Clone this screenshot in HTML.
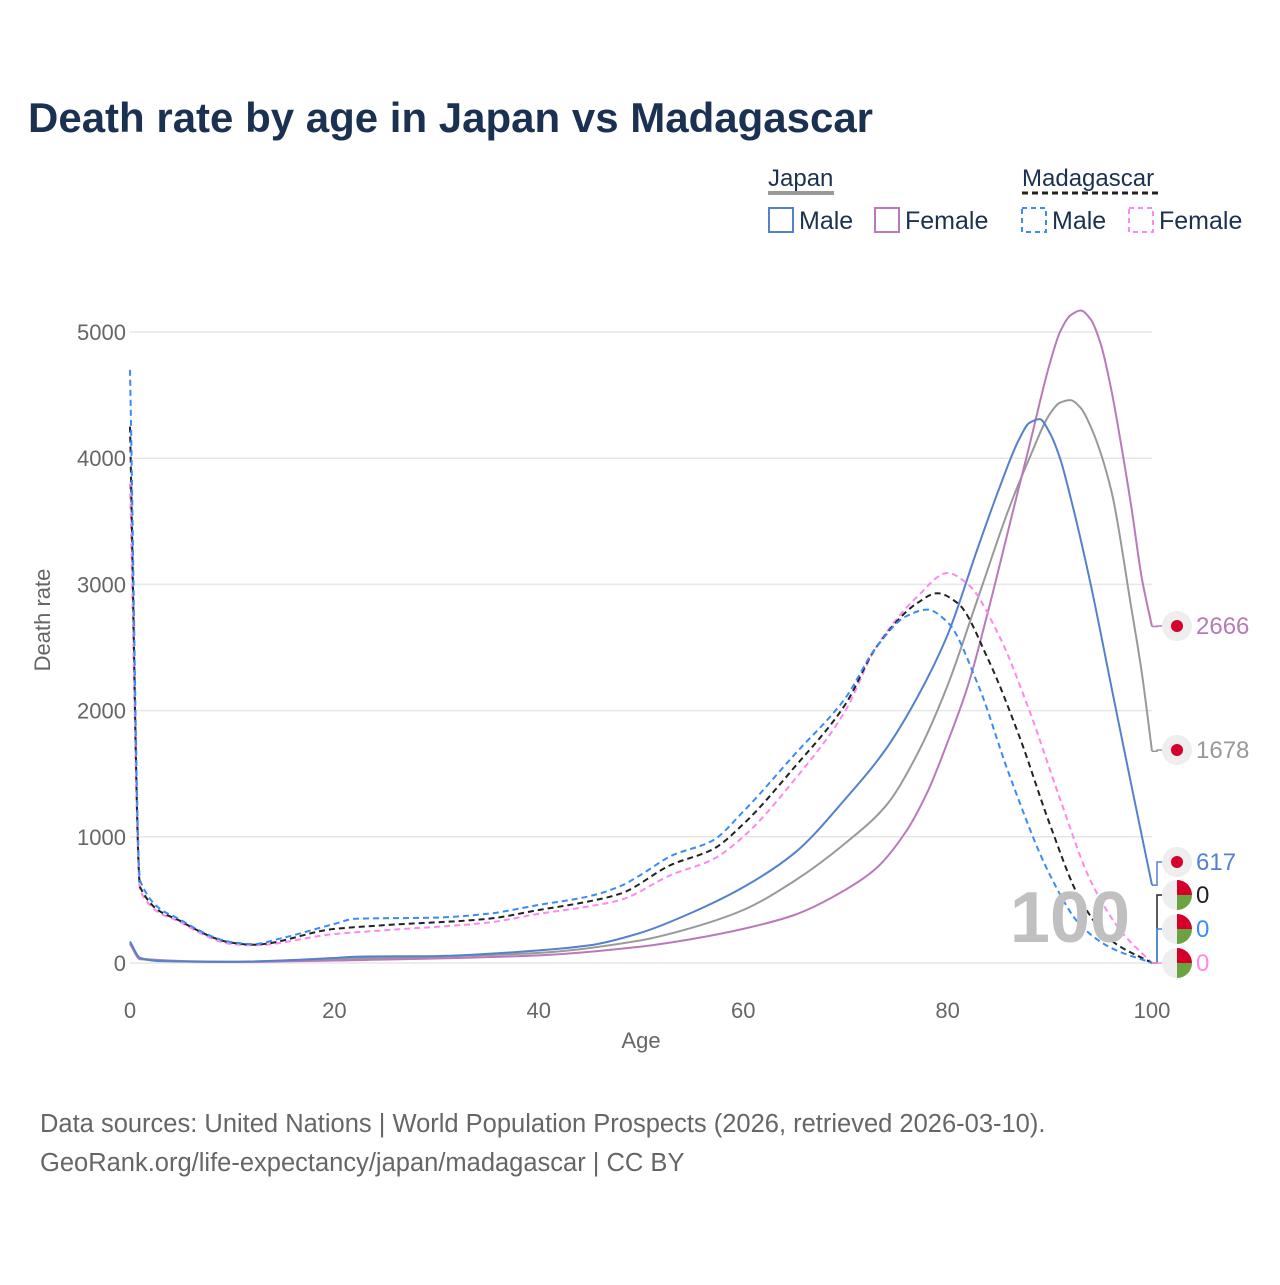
<!DOCTYPE html>
<html><head><meta charset="utf-8">
<style>
body{margin:0;background:#fff;}
svg text{font-family:"Liberation Sans",sans-serif;}
</style></head>
<body>
<svg id="chart" width="1280" height="1280" viewBox="0 0 1280 1280">
<text x="28" y="132" font-size="42" font-weight="bold" fill="#1b3152">Death rate by age in Japan vs Madagascar</text>
<g>
 <text x="768" y="186" font-size="24" fill="#1b3152">Japan</text>
 <line x1="768" y1="193" x2="834" y2="193" stroke="#999" stroke-width="4"/>
 <text x="1022" y="186" font-size="24" fill="#1b3152">Madagascar</text>
 <line x1="1022" y1="193" x2="1159" y2="193" stroke="#222" stroke-width="3" stroke-dasharray="6,4"/>
 <rect x="769" y="208" width="24" height="24" fill="none" stroke="#5580cc" stroke-width="2"/>
 <text x="799" y="229" font-size="25" fill="#1b3152">Male</text>
 <rect x="875" y="208" width="24" height="24" fill="none" stroke="#b87ab8" stroke-width="2"/>
 <text x="905" y="229" font-size="25" fill="#1b3152">Female</text>
 <rect x="1022" y="208" width="24" height="24" fill="none" stroke="#3a8bf5" stroke-width="2" stroke-dasharray="5,4"/>
 <text x="1052" y="229" font-size="25" fill="#1b3152">Male</text>
 <rect x="1129" y="208" width="24" height="24" fill="none" stroke="#ff88ee" stroke-width="2" stroke-dasharray="5,4"/>
 <text x="1159" y="229" font-size="25" fill="#1b3152">Female</text>
</g>
<g id="grid"></g>
<g id="series"></g>
<g id="labels"></g>
<text x="50" y="620" font-size="22" fill="#666" transform="rotate(-90 50 620)" text-anchor="middle">Death rate</text>
<text x="641" y="1048" font-size="22" fill="#666" text-anchor="middle">Age</text>
<text x="1070" y="942" font-size="72" font-weight="bold" fill="#c0c0c0" text-anchor="middle">100</text>
<text x="40" y="1132" font-size="25.5" fill="#666">Data sources: United Nations | World Population Prospects (2026, retrieved 2026-03-10).</text>
<text x="40" y="1171" font-size="25.5" fill="#666">GeoRank.org/life-expectancy/japan/madagascar | CC BY</text>
</svg>
<script>
const yTicks=[0,1000,2000,3000,4000,5000];
const xTicks=[0,20,40,60,80,100];
const mgMaleAges=[0,1,5,10,12,15,20,22,30,35,40,45,48,50,53,57,60,65,70,73,76,78,80,83,86,90,93,96,100];
const mgMaleVals=[4700,650,340,165,150,200,310,350,360,390,460,530,610,700,850,970,1200,1650,2100,2500,2750,2800,2700,2200,1500,700,300,120,0];
const mgTotAges=[0,1,5,10,12,20,25,35,40,45,48,53,57,60,65,70,73,77,79,81,84,87,90,93,96,100];
const mgTotVals=[4250,600,330,160,145,270,300,350,420,490,550,780,900,1100,1550,2050,2500,2850,2930,2850,2400,1800,1100,500,180,0];
const mgFemAges=[0,1,5,10,12,20,25,35,40,45,48,53,57,60,65,70,73,77,80,82,85,88,91,94,97,100];
const mgFemVals=[3800,570,320,150,140,230,260,320,390,450,500,700,820,1000,1450,2000,2500,2900,3090,3000,2600,2000,1300,650,250,0];
const jpMaleAges=[0,1,3,10,20,22,30,40,45,50,55,60,65,70,74,77,80,83,85,87,88,89,90,91,92,94,96,98,100];
const jpMaleVals=[170,40,15,10,40,50,55,100,140,240,400,600,870,1300,1700,2100,2600,3300,3750,4150,4280,4310,4200,4000,3700,3000,2200,1400,617];
const jpTotAges=[0,1,10,20,40,50,55,60,65,70,74,77,80,83,86,88,90,91,92,93,94,96,98,99,100];
const jpTotVals=[160,35,10,30,80,180,280,420,650,950,1250,1650,2200,2900,3600,4000,4350,4440,4460,4400,4250,3750,2800,2300,1678];
const jpFemAges=[0,1,10,20,40,50,55,60,65,70,73,76,78,80,82,84,86,88,90,91,92,93,94,95,96,97,98,99,100];
const jpFemVals=[150,30,8,20,60,130,190,270,380,580,750,1050,1350,1750,2200,2800,3450,4100,4750,5000,5130,5170,5100,4900,4550,4100,3600,3050,2666];

const X=a=>130+a*10.22;
const Y=v=>963-v*0.1262;
const NS="http://www.w3.org/2000/svg";
const grid=document.getElementById('grid');
yTicks.forEach(t=>{
 const l=document.createElementNS(NS,'line');
 l.setAttribute('x1',130);l.setAttribute('x2',1152);l.setAttribute('y1',Y(t));l.setAttribute('y2',Y(t));
 l.setAttribute('stroke','#e6e6e6');l.setAttribute('stroke-width','1.5');
 
 
 grid.appendChild(l);
 const tx=document.createElementNS(NS,'text');
 tx.setAttribute('x',126);tx.setAttribute('y',Y(t)+8);tx.setAttribute('text-anchor','end');
 tx.setAttribute('font-size','22');tx.setAttribute('fill','#666');tx.textContent=t;
 
 
 grid.appendChild(tx);
});
xTicks.forEach(t=>{
 const tx=document.createElementNS(NS,'text');
 tx.setAttribute('x',X(t));tx.setAttribute('y',1018);tx.setAttribute('text-anchor','middle');
 tx.setAttribute('font-size','22');tx.setAttribute('fill','#666');tx.textContent=t;
 
 
 grid.appendChild(tx);
});
function pathFor(ages,vals){
 const x=ages.map(X), y=vals.map(Y), n=x.length;
 const d=[], m=new Array(n);
 for(let i=0;i<n-1;i++) d.push((y[i+1]-y[i])/(x[i+1]-x[i]));
 m[0]=d[0]; m[n-1]=d[n-2];
 for(let i=1;i<n-1;i++){
  if(d[i-1]*d[i]<=0) m[i]=0;
  else { const w1=2*(x[i+1]-x[i])+(x[i]-x[i-1]), w2=(x[i+1]-x[i])+2*(x[i]-x[i-1]);
   m[i]=(w1+w2)/(w1/d[i-1]+w2/d[i]); }
 }
 let s='M'+x[0].toFixed(1)+','+y[0].toFixed(1);
 for(let i=0;i<n-1;i++){
  const h=(x[i+1]-x[i])/3;
  s+=' C'+(x[i]+h).toFixed(1)+','+(y[i]+m[i]*h).toFixed(1)+' '+(x[i+1]-h).toFixed(1)+','+(y[i+1]-m[i+1]*h).toFixed(1)+' '+x[i+1].toFixed(1)+','+y[i+1].toFixed(1);
 }
 return s;
}
const ser=document.getElementById('series');
function addSeries(ages,vals,color,dash,name){
 const pa=document.createElementNS(NS,'path');
 pa.setAttribute('d',pathFor(ages,vals));pa.setAttribute('fill','none');
 pa.setAttribute('stroke',color);pa.setAttribute('stroke-width','2');
 if(dash)pa.setAttribute('stroke-dasharray','6,4');
 
 
 ser.appendChild(pa);
}
addSeries(jpTotAges,jpTotVals,'#999',false,'japan-total-line');
addSeries(jpFemAges,jpFemVals,'#b87ab8',false,'japan-female-line');
addSeries(jpMaleAges,jpMaleVals,'#5580cc',false,'japan-male-line');
addSeries(mgFemAges,mgFemVals,'#ff88ee',true,'madagascar-female-line');
addSeries(mgTotAges,mgTotVals,'#222',true,'madagascar-total-line');
addSeries(mgMaleAges,mgMaleVals,'#3a8bf5',true,'madagascar-male-line');

const lab=document.getElementById('labels');
const endLabels=[
 {v:jpFemVals[jpFemVals.length-1],y:626,c:'#b87ab8',flag:'jp',n:'japan-female'},
 {v:jpTotVals[jpTotVals.length-1],y:750,c:'#999',flag:'jp',n:'japan-total'},
 {v:jpMaleVals[jpMaleVals.length-1],y:862,c:'#5580cc',flag:'jp',n:'japan-male'},
 {v:mgTotVals[mgTotVals.length-1],y:895,c:'#222',flag:'mg',n:'madagascar-total'},
 {v:mgMaleVals[mgMaleVals.length-1],y:929,c:'#3a8bf5',flag:'mg',n:'madagascar-male'},
 {v:mgFemVals[mgFemVals.length-1],y:963,c:'#ff88ee',flag:'mg',n:'madagascar-female'}
];
endLabels.forEach(e=>{
 const g=document.createElementNS(NS,'g');
 
 
 const ly=Math.min(Y(e.v),963);
 const ld=document.createElementNS(NS,'path');
 ld.setAttribute('d','M1152,'+ly+' L1157,'+ly+' L1157,'+e.y+' L1162,'+e.y);
 ld.setAttribute('fill','none');ld.setAttribute('stroke',e.c);ld.setAttribute('stroke-width','1.5');
 g.appendChild(ld);
 const bg=document.createElementNS(NS,'circle');
 bg.setAttribute('cx',1177);bg.setAttribute('cy',e.y);bg.setAttribute('r',15);bg.setAttribute('fill','#eee');
 g.appendChild(bg);
 if(e.flag==='jp'){
  const c=document.createElementNS(NS,'circle');
  c.setAttribute('cx',1177);c.setAttribute('cy',e.y);c.setAttribute('r',6);c.setAttribute('fill','#d4002a');
  g.appendChild(c);
 }else{
  const top=document.createElementNS(NS,'path');
  top.setAttribute('d',`M1177,${e.y-15} A15,15 0 0 1 1192,${e.y} L1177,${e.y} Z`);
  top.setAttribute('fill','#d4002a');g.appendChild(top);
  const bot=document.createElementNS(NS,'path');
  bot.setAttribute('d',`M1192,${e.y} A15,15 0 0 1 1177,${e.y+15} L1177,${e.y} Z`);
  bot.setAttribute('fill','#6aa33f');g.appendChild(bot);
 }
 const t=document.createElementNS(NS,'text');
 t.setAttribute('x',1196);t.setAttribute('y',e.y+8);t.setAttribute('font-size','24');t.setAttribute('fill',e.c);
 t.textContent=Math.round(e.v);
 g.appendChild(t);
 lab.appendChild(g);
});
</script>
</body></html>
